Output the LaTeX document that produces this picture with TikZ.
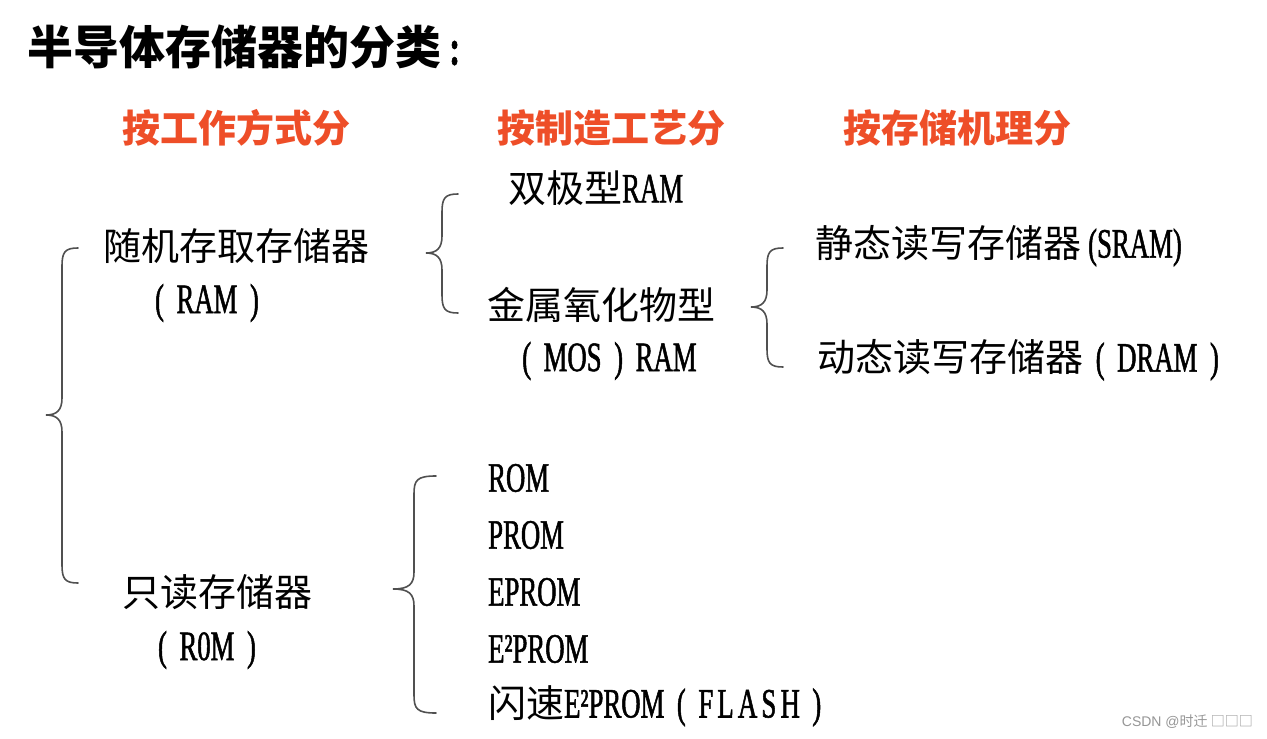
\documentclass[tikz,border=0pt]{standalone}
\usepackage{fontspec}
\setmainfont{Noto Sans CJK SC}
\newfontfamily\lat[Scale=1.1, FakeStretch=0.64, FakeBold=1.2]{Liberation Serif}
\newfontfamily\latsp[Scale=1.1, FakeStretch=0.64, FakeBold=1.2, LetterSpace=10]{Liberation Serif}
\newfontfamily\wmfont{Liberation Sans}
\newfontfamily\wmcjk{Noto Sans CJK SC}
\definecolor{hdrred}{RGB}{238,78,40}
\definecolor{brcgray}{RGB}{80,80,80}
\definecolor{wmgray}{RGB}{150,150,150}
\newcommand\mybrc[6]{% #1 end x, #2 vertical x, #3 tip x, #4 top y, #5 tip y, #6 bottom y
  \draw[brc] (#1,#4) .. controls (#2+3,#4) and (#2,#4+4) .. (#2,#4+18)
    -- (#2,#5-17) .. controls (#2,#5-5) and (#2-5,#5) .. (#3,#5)
    .. controls (#2-5,#5) and (#2,#5+5) .. (#2,#5+17)
    -- (#2,#6-18) .. controls (#2,#6-4) and (#2+3,#6) .. (#1,#6);}
\newcommand\gap{\hspace{0.3em}}
\tikzset{
  txt/.style={inner sep=0pt, anchor=west, text=black, font=\fontsize{38}{40}\selectfont},
  ctxt/.style={txt, anchor=center},
  hdr/.style={txt, text=hdrred, font=\fontsize{38}{40}\selectfont\bfseries},
  ttl/.style={txt, font=\fontsize{46}{48}\selectfont\bfseries},
  brc/.style={draw=brcgray, line width=1.6pt, line cap=round},
  wm/.style={inner sep=0pt, anchor=east, text=wmgray, font=\fontsize{14}{16}\selectfont}
}
\begin{document}
\begin{tikzpicture}[x=1pt,y=-1pt]
\useasboundingbox[fill=white] (0,0) rectangle (1267,739);
% title
\node[ttl] (title) at (27,47) {半导体存储器的分类{\lat\ :}};
% headers
\node[hdr] (h1) at (122,128) {按工作方式分};
\node[hdr] (h2) at (497,128) {按制造工艺分};
\node[hdr] (h3) at (843,128) {按存储机理分};
% column 1
\node[txt] (ram) at (103,246) {随机存取存储器};
\node[ctxt] (ramabbr) at (207,303) {\lat (\gap RAM\gap )};
\node[txt] (rom) at (122,592) {只读存储器};
\node[ctxt] (romabbr) at (207,650) {\lat (\gap R0M\gap )};
% column 2
\node[txt] (bip) at (508,188) {双极型{\lat RAM}};
\node[txt] (mos) at (487,305) {金属氧化物型};
\node[txt] (mosabbr) at (522,361) {{\lat (\gap MOS\gap )\gap RAM}};
\node[txt] (r1) at (488,478) {\lat ROM};
\node[txt] (r2) at (488,535) {\lat PROM};
\node[txt] (r3) at (488,592) {\lat EPROM};
\node[txt] (r4) at (488,649) {\lat E²PROM};
\node[txt] (r5) at (488,706) {闪速{\lat E²PROM\gap (\gap{\latsp FLASH}\gap )}};
% column 3
\node[txt] (sram) at (815,246) {静态读写存储器{\lat\,(SRAM)}};
\node[txt] (dram) at (817,360) {动态读写存储器{\lat\gap (\gap DRAM\gap )}};
% braces
\mybrc{78}{62}{46}{248}{415}{583}
\mybrc{458}{442}{426}{194}{253}{313}
\mybrc{783}{767}{751}{248}{307}{367}
\mybrc{436}{414}{393}{476}{589}{713}
% watermark
\node[wm] (wmk) at (1253,722) {\wmfont CSDN @\wmcjk 时迁 □□□};
\end{tikzpicture}
\end{document}
